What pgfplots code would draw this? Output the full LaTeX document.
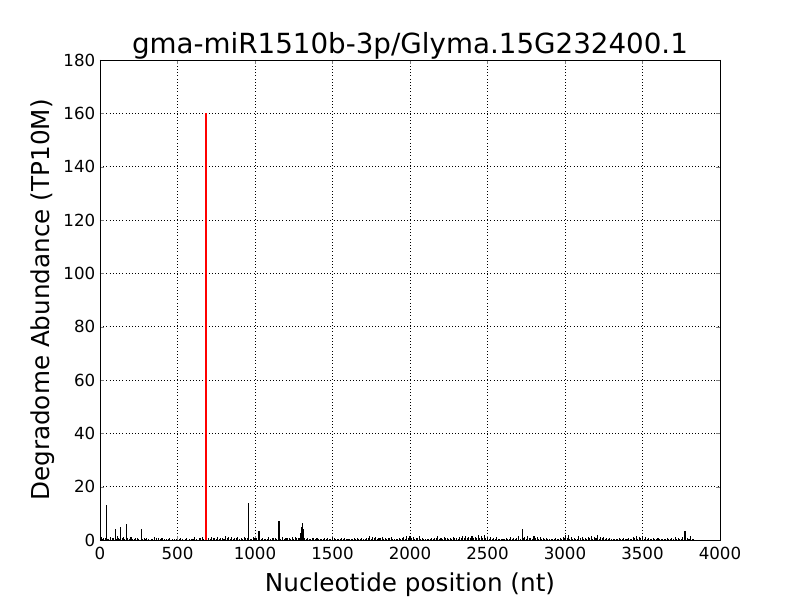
\documentclass[border=0pt]{standalone}
\usepackage{pgfplots}
\pgfplotsset{compat=1.18}
\usepackage{fontspec}
\setmainfont{DejaVu Sans}
\begin{document}
\begin{tikzpicture}
\useasboundingbox (-75pt,-45pt) rectangle (525pt,405pt);
\begin{axis}[
  at={(0pt,0pt)}, anchor=south west,
  scale only axis, width=465pt, height=360pt,
  xmin=0, xmax=4000, ymin=0, ymax=180,
  xtick={0,500,...,4000}, ytick={0,20,...,180},
  grid=major,
  major grid style={black, dotted, line width=0.5pt},
  tick align=inside, tick pos=both,
  major tick length=3pt,
  axis line style={black, line width=0.6pt},
  /pgf/number format/assume math mode=true,
  /pgf/number format/1000 sep={},
  tick label style={font=\fontsize{12.5}{15}\selectfont},
  xticklabel style={yshift=-2pt},
  xlabel={Nucleotide position (nt)},
  ylabel={Degradome Abundance (TP10M)},
  label style={font=\fontsize{18.5}{22}\selectfont},
  xlabel style={yshift=-3pt},
  ylabel style={yshift=0pt},
  title={gma-miR1510b-3p/Glyma.15G232400.1},
  title style={font=\fontsize{20.8}{25}\selectfont, yshift=-9pt},
]
\addplot[ycomb, black, line width=0.8pt, mark=none] coordinates {
(15,0.4)(35,0.6)(45,0.3)(65,0.5)(78,0.7)(105,0.4)(125,0.3)(145,0.6)(160,0.4)(190,0.5)(210,0.3)(230,0.6)(250,0.4)(275,0.3)(295,0.5)(315,0.4)(340,0.3)(365,0.6)(390,0.4)(415,0.3)(440,0.5)(465,0.3)(495,0.4)(510,0.3)(535,0.5)(550,0.3)(575,0.4)(600,0.5)(625,0.3)(650,0.6)(670,0.4)(690,0.5)(710,0.3)(730,0.6)(750,0.4)(770,0.5)(780,0.7)(800,0.4)(820,0.6)(840,0.5)(860,0.4)(880,0.6)(900,0.5)(920,0.4)(940,0.7)(970,0.4)(980,0.5)(1000,0.6)(1020,0.4)(1040,0.5)(1060,0.3)(1080,0.5)(1100,0.4)(1120,0.6)(1140,0.3)(1165,0.5)(1190,0.4)(1210,0.6)(1230,0.5)(1250,0.4)(1270,0.6)(1290,0.8)(1320,0.9)(1330,0.5)(1350,0.4)(1370,0.6)(1390,0.3)(1410,0.5)(1430,0.4)(1440,0.3)(1460,0.5)(1480,0.4)(1490,0.3)(1510,0.6)(1520,0.4)(1540,0.3)(1550,0.5)(1570,0.4)(1590,0.3)(1600,0.5)(1620,0.4)(1630,0.3)(1650,0.5)(1670,0.4)(1680,0.3)(1700,0.5)(1710,0.4)(1730,0.6)(1750,0.5)(1770,0.7)(1790,0.4)(1810,0.6)(1830,0.5)(1850,0.4)(1870,0.6)(1890,0.4)(1910,0.3)(1920,0.5)(1940,0.4)(1950,0.6)(1970,0.5)(1990,0.7)(2010,0.6)(2030,0.5)(2050,0.6)(2070,0.4)(2090,0.3)(2100,0.5)(2120,0.4)(2130,0.3)(2150,0.5)(2170,0.6)(2190,0.5)(2210,0.4)(2230,0.6)(2250,0.5)(2270,0.4)(2290,0.6)(2310,0.5)(2330,0.6)(2350,0.7)(2370,0.6)(2390,0.8)(2410,0.6)(2430,0.7)(2450,0.6)(2470,0.8)(2490,0.6)(2510,0.5)(2530,0.4)(2550,0.5)(2570,0.4)(2580,0.3)(2600,0.4)(2610,0.3)(2630,0.5)(2640,0.4)(2660,0.5)(2680,0.4)(2690,0.6)(2710,0.5)(2730,0.6)(2750,0.5)(2770,0.6)(2790,0.5)(2810,0.6)(2830,0.5)(2850,0.4)(2870,0.5)(2890,0.4)(2900,0.3)(2920,0.4)(2930,0.3)(2950,0.4)(2960,0.3)(2980,0.5)(3000,0.6)(3015,0.7)(3030,0.5)(3050,0.4)(3070,0.5)(3080,0.4)(3100,0.6)(3120,0.5)(3140,0.4)(3160,0.6)(3180,0.5)(3200,0.6)(3220,0.5)(3240,0.6)(3260,0.4)(3280,0.5)(3300,0.3)(3310,0.4)(3330,0.3)(3340,0.4)(3360,0.3)(3370,0.4)(3390,0.3)(3400,0.4)(3420,0.5)(3430,0.4)(3450,0.6)(3470,0.5)(3490,0.6)(3510,0.5)(3530,0.4)(3550,0.5)(3560,0.3)(3580,0.4)(3590,0.3)(3610,0.4)(3620,0.3)(3640,0.4)(3650,0.3)(3670,0.4)(3680,0.3)(3700,0.5)(3720,0.4)(3740,0.5)(3750,0.4)(3770,0.5)(3780,0.4)(3800,0.5)(3820,0.4)
};
\addplot[ycomb, black, line width=0.8pt, mark=none] coordinates {
(10,1.0)(25,0.8)(39,13)(55,0.5)(70,1.2)(85,0.6)(97,4)(110,1.5)(120,0.8)(135,5)(150,1.0)(168,6)(180,0.7)(200,1.2)(220,0.5)(240,0.8)(265,4)(285,0.6)(300,0.9)(330,0.5)(350,1.0)(380,0.6)(400,0.8)(430,0.5)(450,0.7)(480,0.4)(520,0.6)(560,0.8)(590,0.5)(610,1.0)(640,0.7)(660,1.3)(700,0.6)(720,1.0)(740,0.8)(760,1.2)(790,0.6)(810,1.4)(830,1.0)(850,1.2)(870,0.7)(890,1.0)(910,0.8)(930,1.1)(950,0.6)(961,14)(990,1.0)(1010,0.8)(1026,3.5)(1050,0.7)(1070,0.5)(1090,1.0)(1110,0.6)(1130,0.9)(1155,7)(1180,1.0)(1200,0.6)(1220,0.8)(1240,1.3)(1260,1.2)(1280,0.9)(1295,2.5)(1300,5)(1305,6.5)(1310,4)(1315,2.0)(1340,0.7)(1360,0.5)(1380,0.8)(1400,0.6)(1420,0.5)(1450,0.8)(1470,0.6)(1500,1.0)(1530,0.5)(1560,0.8)(1580,0.6)(1610,0.5)(1640,0.7)(1660,0.9)(1690,0.6)(1720,0.8)(1740,1.4)(1760,1.2)(1780,1.0)(1800,0.7)(1820,1.2)(1840,0.8)(1860,0.6)(1880,1.2)(1900,0.5)(1930,0.8)(1960,1.0)(1980,1.5)(2000,1.4)(2020,1.0)(2040,0.8)(2060,1.6)(2080,0.6)(2110,0.5)(2140,0.8)(2160,0.9)(2180,1.4)(2200,0.7)(2220,1.2)(2240,0.8)(2260,0.6)(2280,1.2)(2300,0.9)(2320,1.0)(2340,1.4)(2360,1.6)(2380,1.2)(2400,1.4)(2420,1.0)(2440,1.8)(2460,1.6)(2480,2.0)(2500,1.0)(2520,1.2)(2540,0.6)(2560,1.0)(2590,0.5)(2620,0.8)(2650,1.2)(2670,0.7)(2700,1.5)(2723,4)(2740,1.2)(2760,1.5)(2780,0.8)(2800,1.4)(2820,1.0)(2840,1.2)(2860,0.6)(2880,0.8)(2910,0.5)(2940,0.6)(2970,0.8)(2990,1.0)(3005,2.0)(3020,1.8)(3040,1.0)(3060,0.6)(3090,1.5)(3110,1.2)(3130,0.8)(3150,1.0)(3170,1.5)(3190,1.2)(3210,2.0)(3230,1.0)(3250,1.3)(3270,0.8)(3290,0.6)(3320,0.5)(3350,0.8)(3380,0.6)(3410,0.8)(3440,1.2)(3460,1.5)(3480,1.0)(3500,1.6)(3520,1.0)(3540,0.6)(3570,0.8)(3600,0.6)(3630,0.5)(3660,0.7)(3690,0.6)(3710,1.0)(3730,0.8)(3760,1.2)(3774,3.5)(3790,0.8)(3810,1.5)(3830,0.5)
};
\addplot[ycomb, red, line width=1.5pt, mark=none] coordinates {(684,160)};
\end{axis}
\end{tikzpicture}
\end{document}
